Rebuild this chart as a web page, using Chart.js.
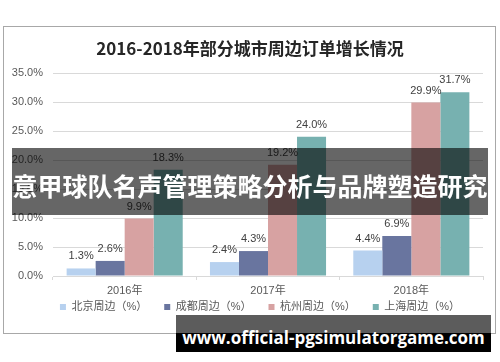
<!DOCTYPE html>
<html>
<head>
<meta charset="utf-8">
<script src="https://cdn.jsdelivr.net/npm/chart.js@4/dist/chart.umd.min.js"></script>
<style>
  html, body { margin: 0; padding: 0; background: #fff; }
  #wrap { position: relative; width: 500px; height: 362px; overflow: hidden; }
  #frame { position: absolute; left: 3px; top: 26px; width: 491px; height: 306px; border: 1px solid #a8a8a8; }
  #chart { position: absolute; left: 0; top: 0; }
  #banner {
    position: absolute; left: 12px; top: 148px; width: 476px; height: 67px;
    background: rgba(0, 0, 0, 0.6); color: #fff;
    font: bold 25px "Noto Sans CJK SC", sans-serif; line-height: 67px;
    text-align: center; white-space: nowrap; padding-top: 4px; box-sizing: border-box;
  }
  #mark {
    position: absolute; left: 176px; top: 315px; width: 315px; height: 37px;
    background: linear-gradient(#5c5c5c 0, #5c5c5c 18px, #000 18px, #000 100%);
    color: #fff; font: bold 17px "Open Sans", sans-serif; line-height: 37px;
    text-align: center; white-space: nowrap; padding-top: 4px; box-sizing: border-box;
  }
</style>
</head>
<body>
<div id="wrap">
  <div id="frame"></div>
  <canvas id="chart" width="500" height="362"></canvas>
  <div id="banner">意甲球队名声管理策略分析与品牌塑造研究</div>
  <div id="mark">www.official-pgsimulatorgame.com</div>
</div>
<script>
// 数据（单位：%）
const years = ['2016年', '2017年', '2018年'];
const beijing = [1.3, 2.4, 4.4];
const chengdu = [2.6, 4.3, 6.9];
const hangzhou = [9.9, 19.2, 29.9];
const shanghai = [18.3, 24.0, 31.7];
const seriesNames = ['北京周边（%）', '成都周边（%）', '杭州周边（%）', '上海周边（%）'];
const seriesColors = ['#b7d1ef', '#69759f', '#d7a2a2', '#77b1b0'];

const FONT = '"Liberation Sans", "Noto Sans CJK SC", sans-serif';

// 柱顶数值标签 + 坐标轴文字（两条轴都压得很窄，自带的刻度文字会被裁掉，所以自己画）
const valueLabels = {
  id: 'valueLabels',
  afterLayout(chart) {
    // 图例整体右移一点，和原图对齐
    chart.legend.left += 10;
    chart.legend.right += 10;
  },
  afterDatasetsDraw(chart) {
    const ctx = chart.ctx;
    ctx.save();
    ctx.font = '11px ' + FONT;
    ctx.fillStyle = '#404040';
    ctx.textAlign = 'center';
    ctx.textBaseline = 'middle';
    chart.data.datasets.forEach((ds, i) => {
      chart.getDatasetMeta(i).data.forEach((bar, j) => {
        ctx.fillText(ds.data[j].toFixed(1) + '%', bar.x, bar.y - 12);
      });
    });
    const xs = chart.scales.x, ys = chart.scales.y;
    ctx.fillStyle = '#595959';
    chart.data.labels.forEach((lab, i) => {
      ctx.fillText(lab, xs.getPixelForValue(i), xs.top + 15);
    });
    ctx.textAlign = 'right';
    ys.ticks.forEach((t) => {
      ctx.fillText(t.value.toFixed(1) + '%', ys.right - 10, ys.getPixelForValue(t.value));
    });
    ctx.restore();
  },
};

const lists = [beijing, chengdu, hangzhou, shanghai];

new Chart(document.getElementById('chart'), {
  type: 'bar',
  data: {
    labels: years,
    datasets: lists.map((d, i) => ({
      label: seriesNames[i],
      data: d,
      backgroundColor: seriesColors[i],
      categoryPercentage: 0.81,
      barPercentage: 1,
    })),
  },
  options: {
    responsive: false,
    animation: false,
    layout: { padding: { left: 17, right: 17, top: 0, bottom: 39.5 } },
    scales: {
      y: {
        min: 0,
        max: 35,
        ticks: { stepSize: 5, display: false },
        grid: { color: '#d9d9d9', drawTicks: false },
        border: { display: false },
        afterFit: (s) => { s.width = 36; },
      },
      x: {
        ticks: { display: false },
        grid: { offset: true, drawOnChartArea: false, tickLength: 4, color: '#d9d9d9' },
        border: { color: '#d9d9d9' },
        afterFit: (s) => { s.height = 8.5; },
      },
    },
    plugins: {
      title: {
        display: true,
        text: '2016-2018年部分城市周边订单增长情况',
        color: '#262626',
        font: { size: 17, weight: 'bold', family: '"Noto Sans CJK SC", sans-serif' },
        padding: { top: 38, bottom: 14.6 },
      },
      legend: {
        position: 'bottom',
        labels: {
          boxWidth: 6,
          boxHeight: 6,
          padding: 17,
          color: '#595959',
          font: { size: 11, family: FONT },
        },
      },
      tooltip: { enabled: false },
    },
  },
  plugins: [valueLabels],
});
</script>
</body>
</html>
